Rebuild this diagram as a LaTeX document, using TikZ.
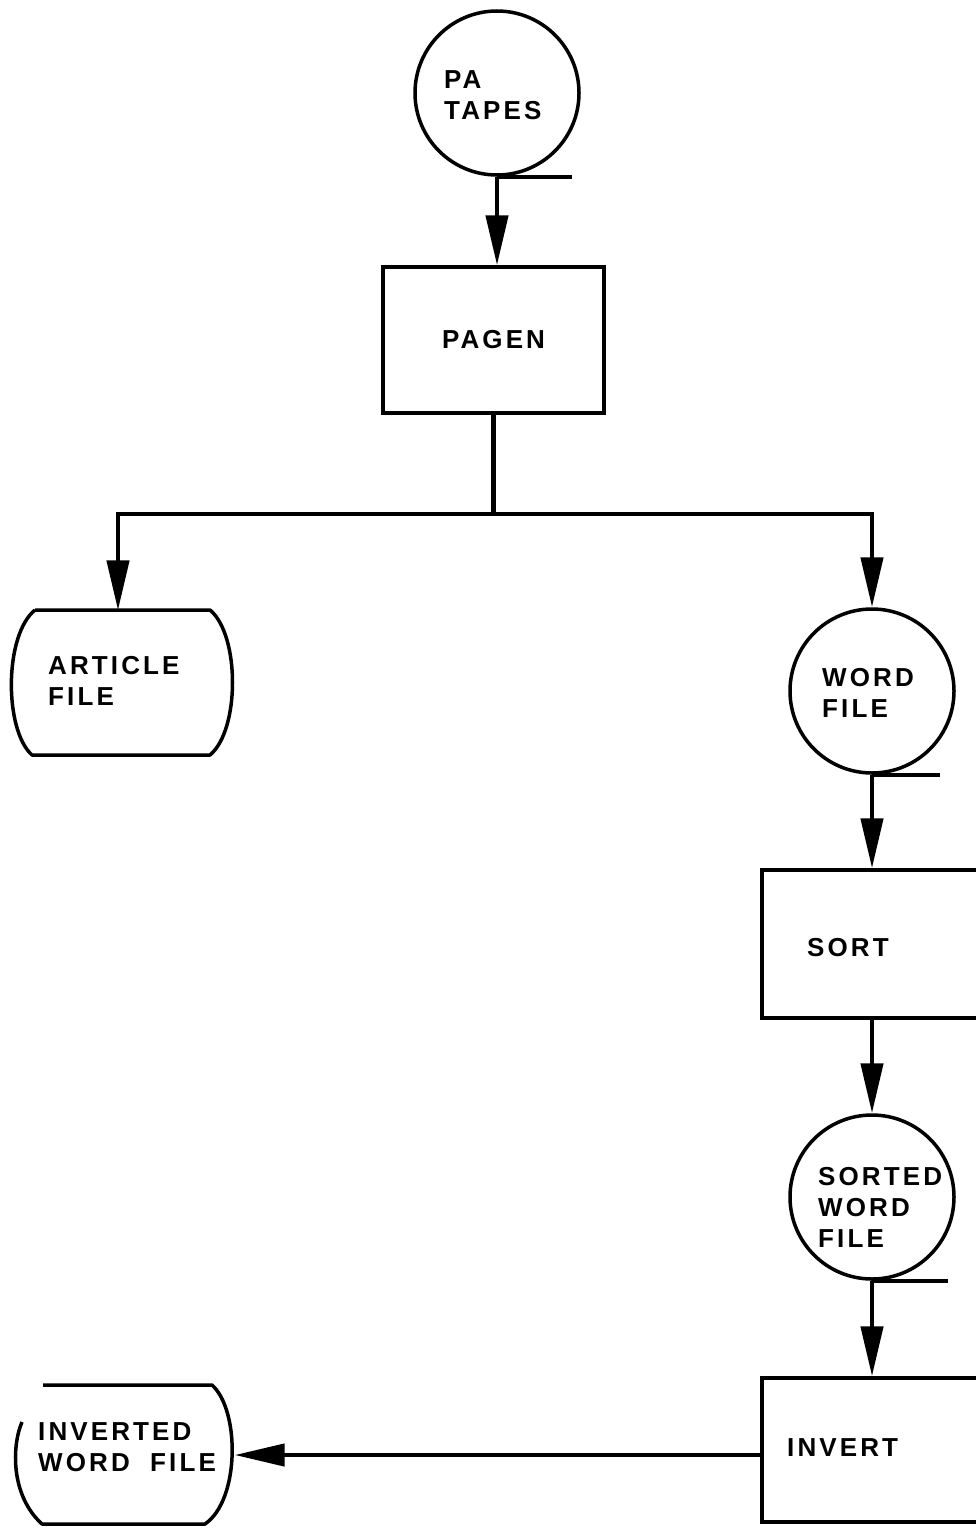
\documentclass[tikz,border=0pt]{standalone}
\usepackage{fontspec}
\setmainfont{Liberation Sans}[LetterSpace=12]
\usetikzlibrary{arrows.meta}
\begin{document}
\begin{tikzpicture}[x=1pt,y=-1pt,
  lbl/.style={font=\bfseries\fontsize{26}{31}\selectfont, align=left, inner sep=0pt, anchor=west},
  tape/.style={circle, draw, line width=3.5pt, minimum size=164pt, inner sep=0pt},
  proc/.style={rectangle, draw, line width=3.5pt, inner sep=0pt, minimum width=221pt, minimum height=146pt},
  store/.style={rectangle, inner sep=0pt},
  outline/.style={line width=3.5pt, line join=round},
  conn/.style={line width=4.5pt},
  arr/.style={line width=4.5pt, -{Triangle[length=50pt,width=22pt]}}]
\useasboundingbox (0,0) rectangle (975,1528);

% PA TAPES
\node[tape] (pa) at (497,93) {};
\node[lbl] (patxt) at (444,95) {PA\\TAPES};
\draw[conn] (pa.south) -- ++(75,0);

% PAGEN
\node[proc, font=\bfseries\fontsize{26}{31}\selectfont] (pagen) at (493.5,340) {PAGEN};

% ARTICLE FILE
\node[store, minimum width=220pt, minimum height=145pt] (art) at (118,683) {};
\draw[outline] (35,610) -- (210,610) .. controls (240,635) and (240,730) .. (210,755)
  -- (32,755) .. controls (4,730) and (4,635) .. (35,610);
\node[lbl] (arttxt) at (48,681) {ARTICLE\\FILE};

% WORD FILE
\node[tape] (wf) at (872,691) {};
\node[lbl] (wftxt) at (822,693) {WORD\\FILE};
\draw[conn] (wf.south) -- ++(68,0);

% SORT
\node[proc, minimum width=240pt, minimum height=148pt] (sort) at (882,944) {};
\node[lbl] (sorttxt) at (807,948) {SORT};

% SORTED WORD FILE
\node[tape] (swf) at (872,1197) {};
\node[lbl] (swftxt) at (818,1207) {SORTED\\WORD\\FILE};
\draw[conn] (swf.south) -- ++(76,0);

% INVERT
\node[proc, minimum width=240pt, minimum height=144pt] (inv) at (882,1450) {};
\node[lbl] (invtxt) at (787,1448) {INVERT};

% INVERTED WORD FILE
\node[store, minimum width=221pt, minimum height=139pt] (iwf) at (124,1455) {};
\draw[outline] (43,1385) -- (212,1385) .. controls (240,1410) and (240,1500) .. (205,1524)
  -- (42,1524) .. controls (10,1495) and (12,1445) .. (22,1422);
\node[lbl] (iwftxt) at (38,1447) {INVERTED\\WORD\hspace{10pt} FILE};

% connectors
\draw[arr] (pa.south) -- (pa.south |- pagen.north);
\draw[conn] (pagen.south) -- ++(0,99) coordinate (jn);
\draw[arr, line join=miter] (jn) -| (art.north);
\draw[arr, line join=miter] (jn) -| (wf.north);
\draw[arr] (wf.south) -- (wf.south |- sort.north);
\draw[arr] (swf.north |- sort.south) -- (swf.north);
\draw[arr] (swf.south) -- (swf.south |- inv.north);
\draw[arr] (inv.west |- iwf.east) -- (iwf.east);
\end{tikzpicture}
\end{document}
